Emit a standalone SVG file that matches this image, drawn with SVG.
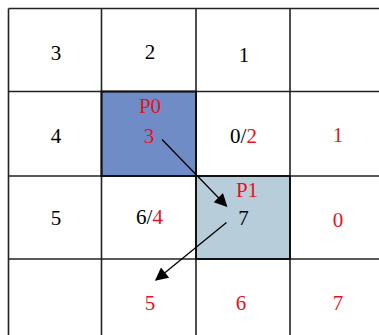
<svg xmlns="http://www.w3.org/2000/svg" width="379" height="335" viewBox="0 0 379 335">
<style>
.t{font-family:"Liberation Serif","Times New Roman",serif;font-size:21px;text-anchor:middle;fill:#000}
.r{fill:#e8101e}
.g{stroke:#222;stroke-width:1.6;fill:none}
.c{stroke:#000;stroke-width:1.3;fill:none}
</style>
<defs>
<marker id="ah" viewBox="0 0 10 10" refX="9" refY="5" markerWidth="16" markerHeight="13" markerUnits="userSpaceOnUse" orient="auto">
<path d="M0,0 L10,5 L0,10 z" fill="#000"/>
</marker>
</defs>
<rect width="379" height="335" fill="#fff"/>
<g id="p0cell"><rect x="101.5" y="91.5" width="94.5" height="84.5" fill="#6f8cc6"/></g>
<g id="p1cell"><rect x="196" y="176" width="94" height="83" fill="#b7cdd9"/></g>
<g id="grid" class="g">
<line x1="8.5" y1="8.5" x2="379" y2="8.5"/>
<line x1="8.5" y1="91.5" x2="379" y2="91.5"/>
<line x1="8.5" y1="176" x2="379" y2="176"/>
<line x1="8.5" y1="259" x2="379" y2="259"/>
<line x1="8.5" y1="8.5" x2="8.5" y2="335"/>
<line x1="101.5" y1="8.5" x2="101.5" y2="335"/>
<line x1="196" y1="8.5" x2="196" y2="335"/>
<line x1="290" y1="8.5" x2="290" y2="335"/>
</g>
<rect x="196" y="176" width="94" height="83" fill="none" stroke="#111" stroke-width="2"/>
<rect x="101.5" y="91.5" width="94.5" height="84.5" fill="none" stroke="#111" stroke-width="2"/>
<g id="labels">
<text class="t" x="56" y="60">3</text>
<text class="t" x="150" y="58.5">2</text>
<text class="t" x="244" y="62">1</text>
<text class="t" x="56" y="143">4</text>
<text class="t r" x="150" y="112.5">P0</text>
<text class="t r" x="149" y="143">3</text>
<text class="t" x="243.5" y="143">0/<tspan class="r">2</tspan></text>
<text class="t r" x="338" y="142">1</text>
<text class="t" x="56" y="225">5</text>
<text class="t" x="149.5" y="224">6/<tspan class="r">4</tspan></text>
<text class="t r" x="247" y="197">P1</text>
<text class="t" x="243.5" y="225">7</text>
<text class="t r" x="338" y="227">0</text>
<text class="t r" x="150" y="310">5</text>
<text class="t r" x="241" y="310">6</text>
<text class="t r" x="338" y="310">7</text>
</g>
<g id="connectors">
<line class="c" x1="162" y1="139.5" x2="226.5" y2="206" marker-end="url(#ah)"/>
<line class="c" x1="226.5" y1="222.5" x2="156" y2="280" marker-end="url(#ah)"/>
</g>
</svg>
